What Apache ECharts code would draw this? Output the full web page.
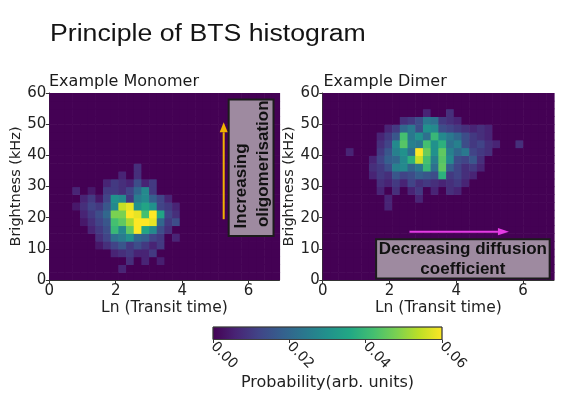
<!DOCTYPE html>
<html><head><meta charset="utf-8">
<script src="https://cdn.jsdelivr.net/npm/echarts@6/dist/echarts.min.js"></script>
<style>html,body{margin:0;padding:0;background:#fff}#c{width:571px;height:393px}</style>
</head><body><div id="c"></div>
<script>
// ---- axes / bins ----
const xMax = 6.93, xBinCount = 30, yMax = 60, yBinCount = 24;
const xTicks = [0, 2, 4, 6];
const yTicks = [0, 10, 20, 30, 40, 50, 60];
const colorTicks = [0, 0.02, 0.04, 0.06];
const mainTitle = 'Principle of BTS histogram';
const plotTitles = ['Example Monomer', 'Example Dimer'];
const xName = 'Ln (Transit time)';
const yName = 'Brightness (kHz)';
const cbName = 'Probability(arb. units)';

// ---- histogram cells: [brightness bin, first transit bin, probabilities x 1e-3] ----
const monomerRows = [
  [1, 9, [6]],
  [2, 10, [8, 0, 6, 0, 5]],
  [3, 8, [6, 8, 10, 6, 6, 10]],
  [4, 6, [4, 8, 12, 16, 10, 14, 10, 6, 10]],
  [5, 6, [8, 12, 22, 25, 30, 20, 18, 12, 10, 0, 6]],
  [6, 5, [6, 10, 14, 40, 28, 45, 60, 35, 28, 14, 8]],
  [7, 4, [4, 8, 12, 16, 42, 45, 52, 60, 60, 58, 20, 10, 14]],
  [8, 4, [6, 10, 14, 20, 48, 48, 60, 58, 42, 60, 35, 12, 8]],
  [9, 3, [4, 8, 12, 10, 16, 28, 55, 58, 30, 35, 30, 12, 10, 6]],
  [10, 4, [6, 10, 4, 12, 30, 28, 10, 25, 28, 18, 12, 6]],
  [11, 3, [6, 0, 4, 0, 10, 10, 8, 12, 20, 28, 10]],
  [12, 7, [6, 10, 8, 6, 14, 6, 10]],
  [13, 9, [6, 0, 8]],
  [14, 11, [8]]
];
const dimerRows = [
  [9, 8, [6]],
  [10, 8, [6, 0, 0, 0, 6]],
  [11, 7, [6, 0, 8, 0, 6, 10, 0, 6, 0, 8, 6]],
  [12, 7, [8, 6, 10, 6, 12, 8, 10, 8, 6, 8, 10, 6]],
  [13, 6, [6, 10, 8, 16, 12, 14, 18, 16, 14, 38, 10, 12, 8, 6]],
  [14, 6, [8, 10, 14, 26, 28, 20, 24, 40, 22, 45, 18, 12, 8, 10, 6]],
  [15, 6, [6, 12, 18, 20, 28, 38, 55, 42, 26, 44, 28, 14, 12, 16, 8]],
  [16, 3, [6, 0, 0, 0, 10, 16, 26, 30, 22, 60, 46, 30, 45, 26, 20, 24, 12, 10, 8]],
  [17, 7, [8, 12, 28, 44, 26, 24, 42, 30, 38, 22, 26, 14, 10, 12, 8, 6, 0, 0, 8]],
  [18, 7, [6, 10, 16, 42, 24, 30, 22, 40, 28, 24, 20, 14, 10, 8, 6]],
  [19, 8, [6, 10, 20, 24, 14, 30, 28, 14, 12, 10, 8, 6, 8, 6]],
  [20, 10, [8, 10, 14, 24, 22, 10, 8, 6]],
  [21, 13, [6, 0, 0, 8]]
];

const viridis = ['#440154', '#482475', '#414487', '#355f8d', '#2a788e', '#21918c',
                 '#22a884', '#44bf70', '#7ad151', '#bddf26', '#fde725'];

const xStep = xMax / xBinCount, yStep = yMax / yBinCount;
function expand(rows) {
  const g = Array.from({length: yBinCount}, () => new Array(xBinCount).fill(0));
  rows.forEach(([j, i0, vals]) => vals.forEach((v, k) => { g[j][i0 + k] = v / 1000; }));
  const out = [];
  for (let j = 0; j < yBinCount; j++)
    for (let i = 0; i < xBinCount; i++) out.push([i * xStep, j * yStep, g[j][i]]);
  return out;
}

function renderCell(params, api) {
  const x0 = api.value(0), y0 = api.value(1);
  const a = api.coord([x0, y0 + yStep]);
  const b = api.coord([x0 + xStep, y0]);
  return {type: 'rect', shape: {x: a[0], y: a[1], width: b[0] - a[0] + 0.6, height: b[1] - a[1] + 0.6},
          style: {fill: api.visual('color')}};
}
function renderBar(params, api) {
  const a = api.coord([api.value(0), 1]);
  const b = api.coord([api.value(1), 0]);
  return {type: 'rect', shape: {x: a[0], y: a[1], width: b[0] - a[0], height: b[1] - a[1]},
          style: {fill: {type: 'linear', x: 0, y: 0, x2: 1, y2: 0,
                  colorStops: viridis.map((c, k) => ({offset: k / (viridis.length - 1), color: c}))},
                  stroke: '#3a3a3a', lineWidth: 0.8}};
}

const FONT = 'DejaVu Sans';
const txt = '#222';
function xAx(gi) {
  return {gridIndex: gi, type: 'value', min: 0, max: xMax,
    name: xName, nameLocation: 'middle', nameGap: 18,
    nameTextStyle: {fontFamily: FONT, fontSize: 15.5, color: txt},
    axisLine: {show: true, lineStyle: {color: '#333', width: 1}},
    axisTick: {show: true, length: 3.5, lineStyle: {color: '#333'}, customValues: xTicks},
    axisLabel: {fontFamily: FONT, fontSize: 15, color: txt, margin: 4, customValues: xTicks},
    splitLine: {show: false}};
}
function yAx(gi) {
  return {gridIndex: gi, type: 'value', min: 0, max: yMax, interval: 10,
    name: yName, nameLocation: 'middle', nameGap: 20,
    nameTextStyle: {fontFamily: FONT, fontSize: 14.5, color: txt},
    axisLine: {show: true, lineStyle: {color: '#333', width: 1}},
    axisTick: {show: true, length: 3.5, lineStyle: {color: '#333'}, customValues: yTicks},
    axisLabel: {fontFamily: FONT, fontSize: 15, color: txt, margin: 3, customValues: yTicks},
    splitLine: {show: false}};
}

const option = {
  backgroundColor: '#ffffff',
  animation: false,
  title: [
    {text: plotTitles[0], left: 49, top: 73.5, padding: 0,
     textStyle: {fontFamily: FONT, fontSize: 16, fontWeight: 'normal', color: '#1a1a1a'}},
    {text: plotTitles[1], left: 323.5, top: 73.5, padding: 0,
     textStyle: {fontFamily: FONT, fontSize: 16, fontWeight: 'normal', color: '#1a1a1a'}}
  ],
  grid: [
    {left: 49.3, top: 93, width: 230.2, height: 187, containLabel: false, outerBoundsMode: 'none'},
    {left: 322.7, top: 93, width: 231.3, height: 187, containLabel: false, outerBoundsMode: 'none'},
    {left: 213, top: 327, width: 229, height: 12.5, containLabel: false, outerBoundsMode: 'none'}
  ],
  xAxis: [xAx(0), xAx(1),
    {gridIndex: 2, type: 'value', min: colorTicks[0], max: colorTicks[colorTicks.length - 1], interval: 0.02,
     name: cbName, nameLocation: 'middle', nameGap: 34,
     nameTextStyle: {fontFamily: FONT, fontSize: 16, color: txt},
     axisLine: {show: false}, splitLine: {show: false},
     axisTick: {show: true, length: 3.5, lineStyle: {color: '#333'}},
     axisLabel: {rotate: -45, fontFamily: FONT, fontSize: 14, color: txt, margin: 5,
                 formatter: v => v.toFixed(2)}}
  ],
  yAxis: [yAx(0), yAx(1),
    {gridIndex: 2, type: 'value', min: 0, max: 1, show: false}
  ],
  visualMap: {type: 'continuous', show: false, min: colorTicks[0], max: colorTicks[colorTicks.length - 1],
              dimension: 2, seriesIndex: [0, 1], inRange: {color: viridis}},
  series: [
    {type: 'custom', xAxisIndex: 0, yAxisIndex: 0, renderItem: renderCell, encode: {x: 0, y: 1},
     data: expand(monomerRows), silent: true, clip: true},
    {type: 'custom', xAxisIndex: 1, yAxisIndex: 1, renderItem: renderCell, encode: {x: 0, y: 1},
     data: expand(dimerRows), silent: true, clip: true},
    {type: 'custom', xAxisIndex: 2, yAxisIndex: 2, renderItem: renderBar, encode: {x: [0, 1]},
     data: [[colorTicks[0], colorTicks[colorTicks.length - 1]]], silent: true}
  ]
};
const chart = echarts.init(document.getElementById('c'), null, {renderer: 'canvas'});
chart.setOption(option);

// ---- annotations placed in data coordinates ----
function P(gi, x, y) { return chart.convertToPixel({gridIndex: gi}, [x, y]); }
function box(gi, x0, y0, x1, y1) {
  const a = P(gi, x0, y1), b = P(gi, x1, y0);
  return {type: 'rect', shape: {x: a[0], y: a[1], width: b[0] - a[0], height: b[1] - a[1]},
          style: {fill: '#9e8aa0', stroke: '#1c1c1c', lineWidth: 2}, z: 100};
}
function label(gi, x, y, s, rot) {
  const p = P(gi, x, y);
  return {type: 'text', x: p[0], y: p[1], rotation: rot || 0, z: 101,
          style: {text: s, fill: '#111', font: 'bold 17px "Liberation Sans"', align: 'center', verticalAlign: 'middle'}};
}
function arrow(gi, x0, y0, x1, y1, color, head, halfW) {
  const a = P(gi, x0, y0), b = P(gi, x1, y1);
  const dx = b[0] - a[0], dy = b[1] - a[1], L = Math.hypot(dx, dy);
  const ux = dx / L, uy = dy / L, nx = -uy, ny = ux;
  const base = [b[0] - ux * head, b[1] - uy * head];
  return [
    {type: 'line', z: 102, shape: {x1: a[0], y1: a[1], x2: base[0], y2: base[1]},
     style: {stroke: color, lineWidth: 2}},
    {type: 'polygon', z: 102, shape: {points: [b, [base[0] + nx * halfW, base[1] + ny * halfW],
                                             [base[0] - nx * halfW, base[1] - ny * halfW]]},
     style: {fill: color}}
  ];
}
chart.setOption({graphic: [
  {type: 'text', x: 50, y: 23, scaleX: 1.16, z: 101,
   style: {text: mainTitle, fill: '#141414', font: '23px "Liberation Sans"', verticalAlign: 'top'}},
  box(0, 5.4, 14.1, 6.75, 57.9),
  label(0, 5.77, 30.2, 'Increasing', Math.PI / 2),
  label(0, 6.45, 37.3, 'oligomerisation', Math.PI / 2),
  ...arrow(0, 5.25, 19.5, 5.25, 50.6, '#f2b200', 10, 4),
  box(1, 1.6, 0.5, 6.8, 13.1),
  label(1, 4.2, 9.9, 'Decreasing diffusion', 0),
  label(1, 4.2, 3.45, 'coefficient', 0),
  ...arrow(1, 2.6, 15.5, 5.58, 15.5, '#e43be4', 11, 3.6)
]});
</script></body></html>
